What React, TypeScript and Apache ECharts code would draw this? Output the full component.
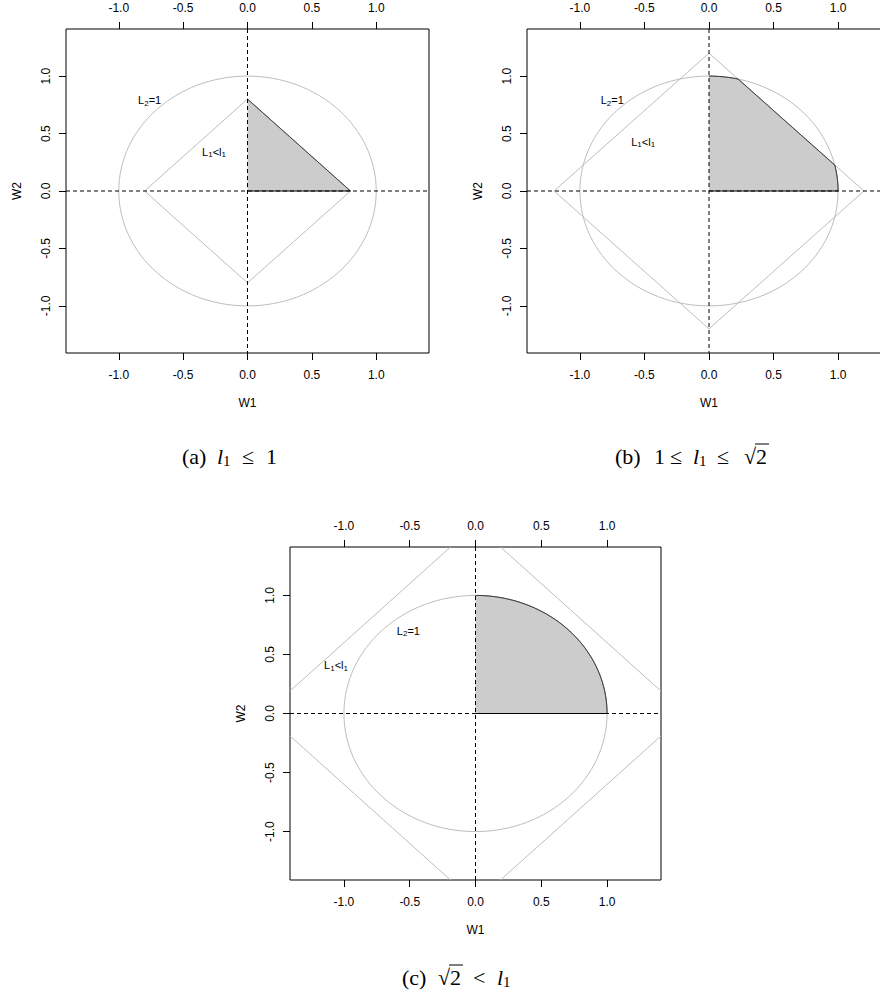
import React, { useEffect, useRef } from 'react';
import * as echarts from 'echarts';

// ---------- data ----------
const panelIds = ['a', 'b', 'c'];
const l1Values = [0.8, 1.2, 1.6]; // L1 constraint level per panel
const l2Radius = 1; // L2 = 1 circle
const origin = [0, 0];
const axisMin = -1.41;
const axisMax = 1.41;
const tickValues = [-1.0, -0.5, 0.0, 0.5, 1.0];
const l2LabelPos = [[-0.76, 0.79], [-0.75, 0.79], [-0.51, 0.7]];
const l1LabelPos = [[-0.26, 0.34], [-0.51, 0.43], [-1.06, 0.41]];
const l2LabelText = '{n|L}{s|2}{n|=1}';
const l1LabelText = '{n|L}{s|1}{n|<l}{s|1}';
const xName = 'W1';
const yName = 'W2';

// ---------- layout ----------
const grids = [
  { left: 66, top: 29, width: 363, height: 324 },
  { left: 527, top: 29, width: 364, height: 324 },
  { left: 290, top: 547, width: 371, height: 333 },
];
const SANS = 'Liberation Sans, Arial, sans-serif';
const SERIF = 'Liberation Serif, Times New Roman, serif';
const GRAY = '#bebebe';

function ellipseRender(params: any, api: any) {
  const cx = api.value(0), cy = api.value(1), r = api.value(2);
  const c = api.coord([cx, cy]);
  const p = api.coord([cx + r, cy + r]);
  return {
    type: 'ellipse',
    shape: { cx: c[0], cy: c[1], rx: p[0] - c[0], ry: c[1] - p[1] },
    style: { fill: 'none', stroke: GRAY, lineWidth: 1 },
  };
}

function diamondRender(params: any, api: any) {
  const l = api.value(0);
  const pts = [[l, 0], [0, l], [-l, 0], [0, -l]].map((p) => api.coord(p));
  return {
    type: 'polygon',
    shape: { points: pts },
    style: { fill: 'none', stroke: GRAY, lineWidth: 1 },
  };
}

function shadeRender(params: any, api: any) {
  const l = api.value(0), r = api.value(1);
  const boundary: number[][] = [];
  const steps = 720;
  for (let i = 0; i <= steps; i++) {
    const t = (Math.PI / 2) * (i / steps);
    const rho = Math.min(r, l / (Math.cos(t) + Math.sin(t)));
    boundary.push(api.coord([rho * Math.cos(t), rho * Math.sin(t)]));
  }
  const o = api.coord([0, 0]);
  return {
    type: 'group',
    children: [
      { type: 'polygon', shape: { points: [o, ...boundary] }, style: { fill: '#cccccc', stroke: 'none' } },
      { type: 'polyline', shape: { points: [o, ...boundary] }, style: { fill: 'none', stroke: '#000', lineWidth: 1 } },
    ],
  };
}

function refLinesRender(params: any, api: any) {
  const cs = params.coordSys;
  const o = api.coord([api.value(0), api.value(1)]);
  const st = { stroke: '#000', lineWidth: 1, lineDash: [4, 3] };
  return {
    type: 'group',
    children: [
      { type: 'line', shape: { x1: cs.x, y1: o[1], x2: cs.x + cs.width, y2: o[1] }, style: st },
      { type: 'line', shape: { x1: o[0], y1: cs.y, x2: o[0], y2: cs.y + cs.height }, style: st },
    ],
  };
}

const labelRich = {
  n: { fontFamily: SANS, fontSize: 11, lineHeight: 14, fill: '#000', color: '#000', verticalAlign: 'middle' },
  s: { fontFamily: SANS, fontSize: 8, lineHeight: 8, fill: '#000', color: '#000', verticalAlign: 'bottom' },
};

function makeTextRender(text: string) {
  return (params: any, api: any) => {
    const p = api.coord([api.value(0), api.value(1)]);
    return {
      type: 'text',
      x: p[0],
      y: p[1],
      style: {
        text,
        rich: labelRich,
        fill: '#000',
        fontFamily: SANS,
        fontSize: 11,
        align: 'center',
        verticalAlign: 'middle',
      },
    };
  };
}

function buildOption() {
  const xAxis: any[] = [];
  const yAxis: any[] = [];
  const series: any[] = [];
  const axisCommon = {
    type: 'value',
    min: axisMin,
    max: axisMax,
    axisLine: { show: false, onZero: false },
    splitLine: { show: false },
    axisTick: { show: true, inside: false, length: 7, customValues: tickValues, lineStyle: { color: '#000', width: 1 } },
  };
  const fmt = (v: number) => v.toFixed(1);
  panelIds.forEach((id, i) => {
    xAxis.push({
      ...axisCommon,
      gridIndex: i,
      position: 'bottom',
      name: xName,
      nameLocation: 'middle',
      nameGap: 44,
      nameTextStyle: { fontFamily: SANS, fontSize: 12, color: '#000' },
      axisLabel: { customValues: tickValues, formatter: fmt, fontFamily: SANS, fontSize: 12, color: '#000', margin: 16 },
    });
    xAxis.push({
      ...axisCommon,
      gridIndex: i,
      position: 'top',
      axisLabel: { customValues: tickValues, formatter: fmt, fontFamily: SANS, fontSize: 12, color: '#000', margin: 15 },
    });
    yAxis.push({
      ...axisCommon,
      gridIndex: i,
      position: 'left',
      name: yName,
      nameLocation: 'middle',
      nameGap: 43,
      nameRotate: 90,
      nameTextStyle: { fontFamily: SANS, fontSize: 12, color: '#000' },
      axisLabel: { customValues: tickValues, formatter: fmt, fontFamily: SANS, fontSize: 12, color: '#000', margin: 14, rotate: 90 },
    });
    const ax = { xAxisIndex: i * 2, yAxisIndex: i };
    series.push({
      type: 'custom', ...ax, clip: true, silent: true, z: 2,
      renderItem: ellipseRender,
      data: [[origin[0], origin[1], l2Radius]],
    });
    series.push({
      type: 'custom', ...ax, clip: true, silent: true, z: 2,
      renderItem: diamondRender,
      data: [[l1Values[i]]],
    });
    series.push({
      type: 'custom', ...ax, clip: true, silent: true, z: 3,
      renderItem: shadeRender,
      data: [[l1Values[i], l2Radius]],
    });
    series.push({
      type: 'custom', ...ax, clip: true, silent: true, z: 4,
      renderItem: refLinesRender,
      data: [[origin[0], origin[1]]],
    });
    series.push({
      type: 'custom', ...ax, silent: true, z: 5,
      renderItem: makeTextRender(l2LabelText),
      data: [l2LabelPos[i]],
    });
    series.push({
      type: 'custom', ...ax, silent: true, z: 5,
      renderItem: makeTextRender(l1LabelText),
      data: [l1LabelPos[i]],
    });
  });

  // captions
  const mk = (text: string, x: number, y: number, opts: any = {}) => ({
    type: 'text',
    x,
    y: y + (opts.sub ? 5 : 0),
    style: {
      text,
      fontFamily: SERIF,
      fontSize: opts.sub ? 15 : 22,
      fontStyle: opts.italic ? 'italic' : 'normal',
      fill: '#000',
      align: 'left',
      verticalAlign: 'middle',
    },
  });
  const ya = 456;
  const yc = 977;
  const bar = (x1: number, x2: number, y: number) => ({
    type: 'line',
    shape: { x1, y1: y, x2, y2: y },
    style: { stroke: '#000', lineWidth: 1 },
  });
  const graphic: any[] = [
    mk('(a)', 182, ya), mk('l', 217, ya, { italic: true }), mk('1', 223, ya, { sub: true }),
    mk('\u2264', 242, ya), mk('1', 266, ya),
    mk('(b)', 615, ya), mk('1', 654, ya), mk('\u2264', 670, ya), mk('l', 693, ya, { italic: true }),
    mk('1', 699, ya, { sub: true }), mk('\u2264', 717, ya), mk('\u221A', 744, ya), mk('2', 756, ya),
    bar(755, 769, 444),
    mk('(c)', 402, yc), mk('\u221A', 438, yc), mk('2', 450, yc), mk('<', 473, yc),
    mk('l', 497, yc, { italic: true }), mk('1', 503, yc, { sub: true }),
    bar(449, 463, 965),
  ];

  return {
    animation: false,
    backgroundColor: '#fff',
    grid: grids.map((g) => ({
      ...g,
      show: true,
      borderColor: '#000',
      borderWidth: 1,
      backgroundColor: 'transparent',
      containLabel: false,
      outerBoundsMode: 'none',
    })),
    xAxis,
    yAxis,
    series,
    graphic,
  };
}

export default function App() {
  const ref = useRef<HTMLDivElement>(null);
  useEffect(() => {
    if (!ref.current) return;
    const chart = echarts.init(ref.current, null, { renderer: 'svg', width: 880, height: 995 });
    chart.setOption(buildOption() as any);
    return () => chart.dispose();
  }, []);
  return (
    <div
      ref={ref}
      style={{ position: 'absolute', left: 0, top: 0, width: 880, height: 995, background: '#fff' }}
    />
  );
}
